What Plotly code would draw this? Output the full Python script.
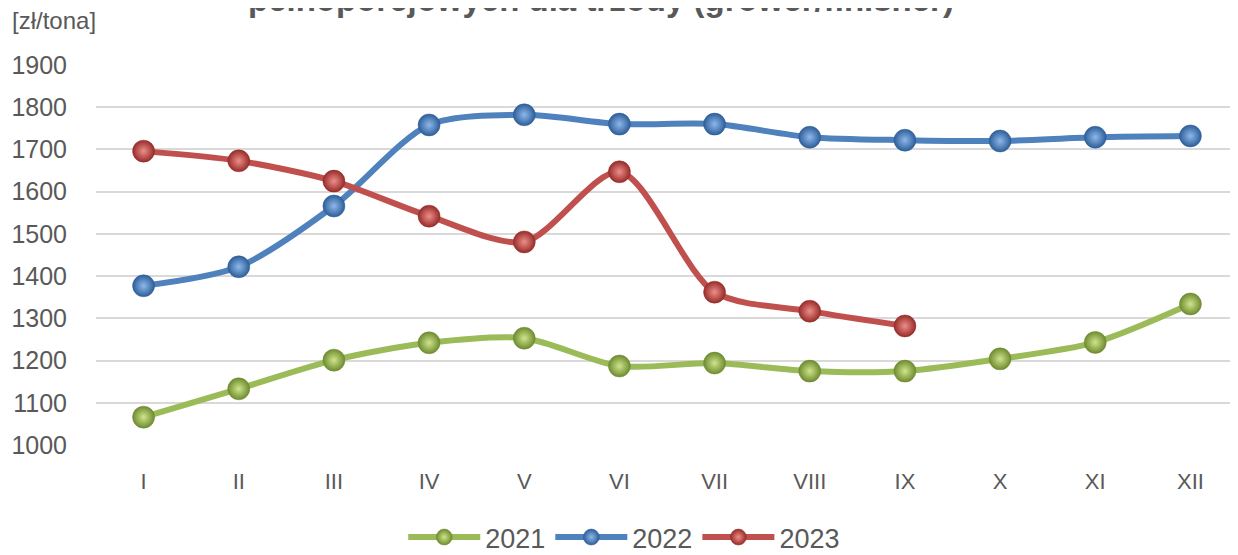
import plotly.graph_objects as go

months = ["I", "II", "III", "IV", "V", "VI", "VII", "VIII", "IX", "X", "XI", "XII"]
y2021 = [1066, 1133, 1201, 1242, 1253, 1187, 1194, 1175, 1175, 1204, 1243, 1334]
y2022 = [1377, 1422, 1566, 1758, 1782, 1760, 1760, 1729, 1722, 1720, 1729, 1732]
y2023 = [1696, 1673, 1625, 1542, 1481, 1647, 1362, 1317, 1282]

series = [
    ("2021", y2021, "#9BBB59", "#CFE58C", "#6E8B30"),
    ("2022", y2022, "#4F81BD", "#8DB8EC", "#2E5E98"),
    ("2023", y2023, "#C0504D", "#EE8E89", "#962C29"),
]

FONT = "Liberation Sans"
GRAY = "#595959"

fig = go.Figure()
for name, vals, col, light, dark in series:
    fig.add_trace(go.Scatter(
        x=months[:len(vals)], y=vals, name=name,
        mode="lines+markers",
        line=dict(color=col, width=6, shape="spline", smoothing=0.8),
        marker=dict(size=22, color=dark,
                    gradient=dict(type="radial", color=light),
                    line=dict(color=dark, width=0.5)),
        cliponaxis=False,
    ))

fig.update_layout(
    width=1230, height=547,
    paper_bgcolor="white", plot_bgcolor="white",
    margin=dict(l=88, r=0, t=57, b=110, autoexpand=False),
    showlegend=True,
    legend=dict(orientation="h", xref="container", yref="container",
                x=0.501, xanchor="center", y=0.032, yanchor="middle",
                font=dict(family=FONT, size=27, color=GRAY),
                itemwidth=72, tracegroupgap=0),
    xaxis=dict(type="category", categoryorder="array", categoryarray=months,
               range=[-0.5, 11.5], showgrid=False, showline=False, zeroline=False,
               ticks="", tickfont=dict(family=FONT, size=22, color=GRAY),
               ticklabelstandoff=21),
    yaxis=dict(range=[1000, 1900], dtick=100, showgrid=True, gridcolor="#D9D9D9",
               gridwidth=2, zeroline=False, showline=False, ticks="",
               tickfont=dict(family=FONT, size=25, color=GRAY),
               ticklabelstandoff=28),
    annotations=[
        dict(text="[zł/tona]", xref="paper", yref="paper", x=-0.0753, y=1.118,
             xanchor="left", yanchor="middle", showarrow=False,
             font=dict(family=FONT, size=24, color=GRAY)),
        dict(text="<b>pełnoporcjowych dla trzody (grower/finisher)</b>",
             xref="paper", yref="paper", x=0.442, y=1.118,
             xanchor="center", yanchor="bottom", showarrow=False,
             font=dict(family=FONT, size=33, color=GRAY)),
    ],
)

fig.write_html("out.html")
